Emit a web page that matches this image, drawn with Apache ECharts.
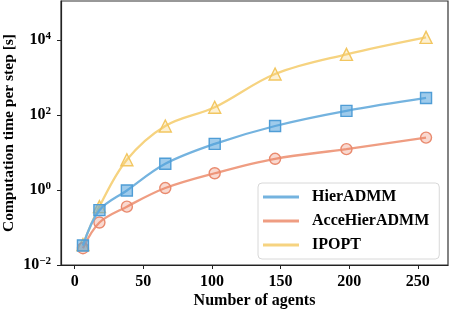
<!DOCTYPE html>
<html>
<head>
<meta charset="utf-8">
<script src="https://cdn.jsdelivr.net/npm/echarts@6/dist/echarts.min.js"></script>
<style>
html,body{margin:0;padding:0;background:#fff;}
#c{width:450px;height:310px;}
</style>
</head>
<body>
<div id="c"></div>
<script>
const agents = [6, 18, 38, 66, 102, 146, 198, 256];
const hierADMM = [0.033, 0.29, 0.97, 5.0, 17, 51, 129, 285];
const acceHierADMM = [0.028, 0.136, 0.36, 1.13, 2.8, 6.8, 12.3, 25];
const ipopt = [0.035, 0.36, 6.4, 51, 161, 1244, 4160, 11800];
const seriesNames = ['HierADMM', 'AcceHierADMM', 'IPOPT'];
const xTicks = [0, 50, 100, 150, 200, 250];
const yTicks = [0.01, 1, 100, 10000];

const FONT = '"Liberation Serif", "DejaVu Serif", serif';
const colors = {
  line: ['#74b3df', '#ef9d82', '#f6d380'],
  fill: ['rgba(80,160,218,0.55)', 'rgba(235,130,100,0.30)', 'rgba(245,205,110,0.30)'],
  border: ['#4f9dd6', '#e98a6e', '#f2c660']
};
const symbols = ['rect', 'circle', 'triangle'];
const sizes = [11, 11, 12];

function pairs(ys) { return agents.map((x, i) => [x, ys[i]]); }
const allData = [hierADMM, acceHierADMM, ipopt];

const chart = echarts.init(document.getElementById('c'), null, {renderer: 'canvas'});
chart.setOption({
  animation: false,
  backgroundColor: '#fff',
  grid: {left: 61, right: 2, top: 1, bottom: 45, containLabel: false, outerBoundsMode: 'none',
    show: true, borderColor: '#333', borderWidth: 1.2, backgroundColor: 'transparent'},
  xAxis: {
    type: 'value', min: -10, max: 272,
    name: 'Number of agents', nameLocation: 'middle', nameGap: 28, nameMoveOverlap: false,
    nameTextStyle: {fontFamily: FONT, fontWeight: 'bold', fontSize: 16, color: '#000'},
    axisLine: {show: true, onZero: false, lineStyle: {color: '#222', width: 1.2}},
    axisTick: {show: true, inside: false, length: 4, lineStyle: {color: '#222'}, customValues: xTicks},
    axisLabel: {fontFamily: FONT, fontWeight: 'bold', fontSize: 16, color: '#000', margin: 9, customValues: xTicks},
    splitLine: {show: false}
  },
  yAxis: {
    type: 'log', logBase: 100, min: 0.01, max: 110000, splitNumber: 3,
    name: 'Computation time per step [s]', nameLocation: 'middle', nameGap: 44, nameMoveOverlap: false,
    nameTextStyle: {fontFamily: FONT, fontWeight: 'bold', fontSize: 15.5, color: '#000'},
    axisLine: {show: true, onZero: false, lineStyle: {color: '#222', width: 1.2}},
    axisTick: {show: true, inside: false, length: 4, lineStyle: {color: '#222'}, customValues: yTicks},
    axisLabel: {
      margin: 10,
      customValues: yTicks,
      formatter: function (v) {
        const e = Math.round(Math.log10(v));
        return '{b|10}{s|' + (e < 0 ? '\u2212' + (-e) : e) + '}';
      },
      rich: {
        b: {fontFamily: FONT, fontWeight: 'bold', fontSize: 16, color: '#000', lineHeight: 18},
        s: {fontFamily: FONT, fontWeight: 'bold', fontSize: 11, color: '#000', verticalAlign: 'top', lineHeight: 12}
      }
    },
    splitLine: {show: false},
    minorTick: {show: false}
  },
  legend: {
    orient: 'vertical', left: 258, top: 183, width: 180,
    padding: [6, 10, 6, 5],
    itemGap: 8, itemWidth: 36, itemHeight: 3,
    backgroundColor: '#fff', borderColor: '#d8d8d8', borderWidth: 1, borderRadius: 4,
    textStyle: {fontFamily: FONT, fontWeight: 'bold', fontSize: 16, color: '#000', padding: [0, 0, 0, 8]},
    data: seriesNames.map((n, i) => ({name: n, icon: 'rect', itemStyle: {color: colors.line[i], borderWidth: 0}}))
  },
  series: seriesNames.map((n, i) => ({
    name: n, type: 'line', smooth: 0.35,
    data: pairs(allData[i]),
    symbol: symbols[i], symbolSize: sizes[i],
    lineStyle: {color: colors.line[i], width: 2.3},
    itemStyle: {color: colors.fill[i], borderColor: colors.border[i], borderWidth: 1.4},
    z: 3 - i
  }))
});
</script>
</body>
</html>
